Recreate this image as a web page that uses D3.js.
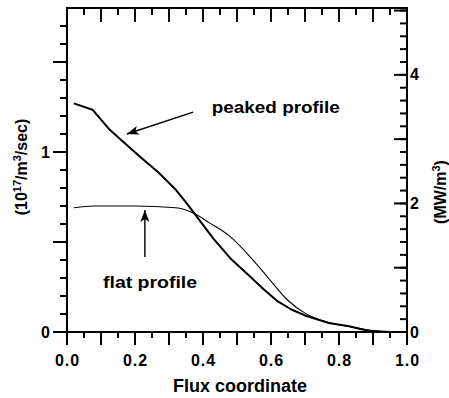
<!DOCTYPE html>
<html>
<head>
<meta charset="utf-8">
<script src="https://cdn.jsdelivr.net/npm/d3@7"></script>
<style>
  body { margin: 0; background: #fff; }
  text { font-family: "Liberation Sans", Arial, sans-serif; font-weight: bold; fill: #000; }
</style>
</head>
<body>
<script>
// peaked profile (thick line), left axis units
const peakedX = [0.02, 0.075, 0.10, 0.125, 0.175, 0.22, 0.27, 0.32, 0.35, 0.37, 0.40, 0.43, 0.48, 0.54, 0.58, 0.62, 0.66, 0.70, 0.77, 0.83, 0.86, 0.89, 0.95];
const peakedY = [1.27, 1.235, 1.18, 1.125, 1.04, 0.965, 0.885, 0.79, 0.72, 0.67, 0.595, 0.52, 0.41, 0.305, 0.235, 0.17, 0.125, 0.092, 0.05, 0.032, 0.018, 0.006, 0.0];

// flat profile (thin line)
const flatX = [0.02, 0.08, 0.20, 0.32, 0.37, 0.42, 0.48, 0.54, 0.59, 0.65, 0.70, 0.74, 0.80, 0.86, 0.90, 0.95];
const flatY = [0.69, 0.70, 0.70, 0.69, 0.662, 0.605, 0.53, 0.415, 0.305, 0.175, 0.105, 0.07, 0.04, 0.02, 0.008, 0.0];

const xLabels = [0, 0.2, 0.4, 0.6, 0.8, 1.0];
const xMinor = [0, 0.05, 0.1, 0.15, 0.2, 0.25, 0.3, 0.35, 0.4, 0.45, 0.5, 0.55, 0.6, 0.65, 0.7, 0.75, 0.8, 0.85, 0.9, 0.95, 1.0];
const xMajor = [0, 0.1, 0.2, 0.3, 0.4, 0.5, 0.6, 0.7, 0.8, 0.9, 1.0];
const leftLabels = [0, 1];
const leftMinor = [0, 0.1, 0.2, 0.3, 0.4, 0.5, 0.6, 0.7, 0.8, 0.9, 1.0, 1.1, 1.2, 1.3, 1.4, 1.5, 1.6, 1.7];
const leftMajor = [0, 0.5, 1, 1.5];
const rightLabels = [0, 2, 4];
const rightMinor = [0, 0.2, 0.4, 0.6, 0.8, 1, 1.2, 1.4, 1.6, 1.8, 2, 2.2, 2.4, 2.6, 2.8, 3, 3.2, 3.4, 3.6, 3.8, 4, 4.2, 4.4, 4.6, 4.8, 5];
const rightMajor = [0, 1, 2, 3, 4, 5];

// annotations: [label, textX, textY, arrowFromX, arrowFromY, arrowToX, arrowToY]
const notes = [
  ["peaked profile", 0.426, 1.217, 0.371, 1.222, 0.176, 1.10],
  ["flat profile", 0.106, 0.244, 0.229, 0.417, 0.229, 0.678]
];

const width = 449, height = 398;
const mLeft = 67, mRight = 407, mTop = 8, mBottom = 332;

const svg = d3.select("body").append("svg")
  .attr("width", width)
  .attr("height", height);

const x = d3.scaleLinear().domain([0, 1]).range([mLeft, mRight]);
const yL = d3.scaleLinear().domain([0, 1.8]).range([mBottom, mTop]);
const yR = d3.scaleLinear().domain([0, 5.04]).range([mBottom, mTop]);

// frame
svg.append("rect")
  .attr("x", mLeft).attr("y", mTop)
  .attr("width", mRight - mLeft).attr("height", mBottom - mTop)
  .attr("fill", "none").attr("stroke", "#000").attr("stroke-width", 2);

// tick marks: vertical ticks on x, horizontal ticks on y
function vTicks(vals, y1, y2) {
  svg.append("g").selectAll("line").data(vals).join("line")
    .attr("stroke", "#000").attr("stroke-width", 2)
    .attr("x1", d => x(d)).attr("x2", d => x(d))
    .attr("y1", y1).attr("y2", y2);
}
function hTicks(vals, scale, x1, x2) {
  svg.append("g").selectAll("line").data(vals).join("line")
    .attr("stroke", "#000").attr("stroke-width", 2)
    .attr("y1", d => scale(d)).attr("y2", d => scale(d))
    .attr("x1", x1).attr("x2", x2);
}
vTicks(xMinor, mBottom, mBottom + 6);
vTicks(xMajor, mBottom, mBottom + 13);
vTicks(xMinor, mTop, mTop + 7);
vTicks(xMajor, mTop, mTop + 14);
hTicks(leftMinor, yL, mLeft - 7, mLeft);
hTicks(leftMajor, yL, mLeft - 14, mLeft);
hTicks(rightMinor, yR, mRight - 7, mRight);
hTicks(rightMajor, yR, mRight - 13, mRight);

// tick labels via axes (no lines)
function labelAxis(g) {
  g.select(".domain").remove();
  g.selectAll("text").attr("font-size", 16).attr("font-family", null);
}
svg.append("g").attr("transform", `translate(0,${mBottom})`)
  .call(d3.axisBottom(x).tickValues(xLabels).tickSize(0).tickPadding(23).tickFormat(d3.format(".1f")))
  .call(labelAxis)
  .call(g => g.selectAll("text").attr("letter-spacing", 1));
svg.append("g").attr("transform", `translate(${mLeft},0)`)
  .call(d3.axisLeft(yL).tickValues(leftLabels).tickSize(0).tickPadding(17).tickFormat(d3.format("d")))
  .call(labelAxis);
svg.append("g").attr("transform", `translate(${mRight},0)`)
  .call(d3.axisRight(yR).tickValues(rightLabels).tickSize(0).tickPadding(3).tickFormat(d3.format("d")))
  .call(labelAxis);

// curves
const flatLine = d3.line().x(d => x(d[0])).y(d => yL(d[1])).curve(d3.curveMonotoneX);
const peakLine = d3.line().x(d => x(d[0])).y(d => yL(d[1]));

svg.append("path")
  .datum(flatX.map((v, i) => [v, flatY[i]]))
  .attr("fill", "none").attr("stroke", "#000").attr("stroke-width", 1.1)
  .attr("d", flatLine);

svg.append("path")
  .datum(peakedX.map((v, i) => [v, peakedY[i]]))
  .attr("fill", "none").attr("stroke", "#000").attr("stroke-width", 2)
  .attr("stroke-linejoin", "round")
  .attr("d", peakLine);

// arrows + annotation text
svg.append("defs").append("marker")
  .attr("id", "head")
  .attr("markerUnits", "userSpaceOnUse")
  .attr("viewBox", "-13 -5 14 10")
  .attr("refX", 0).attr("refY", 0)
  .attr("markerWidth", 14).attr("markerHeight", 10)
  .attr("orient", "auto")
  .append("path")
  .attr("d", "M0,0L-12,-4.5L-9,0L-12,4.5Z")
  .attr("fill", "#000");

notes.forEach(n => {
  svg.append("line")
    .attr("x1", x(n[3])).attr("y1", yL(n[4]))
    .attr("x2", x(n[5])).attr("y2", yL(n[6]))
    .attr("stroke", "#000").attr("stroke-width", 1.4)
    .attr("marker-end", "url(#head)");
  svg.append("text")
    .attr("x", x(n[1])).attr("y", yL(n[2]))
    .attr("font-size", 16)
    .attr("textLength", n[0] === "peaked profile" ? 128 : 94)
    .attr("lengthAdjust", "spacingAndGlyphs")
    .text(n[0]);
});

// axis titles
svg.append("text")
  .attr("x", 240).attr("y", 392)
  .attr("text-anchor", "middle")
  .attr("font-size", 18)
  .text("Flux coordinate");

const lt = svg.append("text")
  .attr("transform", "translate(27,167) rotate(-90)")
  .attr("text-anchor", "middle")
  .attr("font-size", 16);
lt.append("tspan").text("(10");
lt.append("tspan").attr("font-size", 11).attr("dy", -6).text("17");
lt.append("tspan").attr("dy", 6).text("/m");
lt.append("tspan").attr("font-size", 11).attr("dy", -6).text("3");
lt.append("tspan").attr("dy", 6).text("/sec)");

const rt = svg.append("text")
  .attr("transform", "translate(446,192) rotate(-90)")
  .attr("text-anchor", "middle")
  .attr("font-size", 16);
rt.append("tspan").text("(MW/m");
rt.append("tspan").attr("font-size", 11).attr("dy", -6).text("3");
rt.append("tspan").attr("dy", 6).text(")");
</script>
</body>
</html>
